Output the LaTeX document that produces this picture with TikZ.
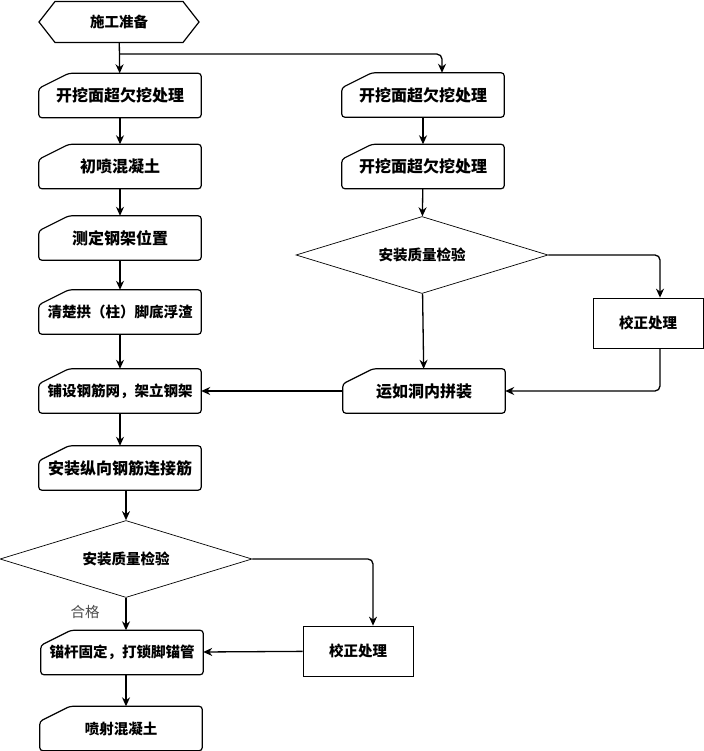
\documentclass[tikz,border=0pt]{standalone}
\usepackage{fontspec}
\setmainfont{Noto Sans CJK SC}
\usetikzlibrary{arrows.meta,positioning,shapes.geometric,shapes.symbols}

\begin{document}
\begin{tikzpicture}[x=1pt, y=-1pt,
  card/.style={minimum width=162pt, minimum height=44pt, inner sep=0pt, font=\fontsize{16}{19}\selectfont\bfseries},
  cardsm/.style={card, font=\fontsize{14.5}{18}\selectfont\bfseries},
  start/.style={draw, signal, signal to=west and east, signal pointer angle=104, minimum width=160pt, minimum height=41pt, inner sep=0pt, line width=1.2pt, font=\fontsize{14.5}{18}\selectfont\bfseries},
  check/.style={draw, diamond, aspect=3.3, minimum width=252pt, minimum height=77pt, inner sep=0pt, line width=0.7pt, font=\fontsize{14.5}{18}\selectfont\bfseries},
  fix/.style={draw, minimum width=110pt, minimum height=50pt, inner sep=0pt, line width=0.7pt, font=\fontsize{14.5}{18}\selectfont\bfseries},
  arr/.style={-{Stealth[length=9pt, width=8pt]}, line width=1.3pt, rounded corners=5pt}
]
  \useasboundingbox (0,0) rectangle (703,751);

  % left column
  \node[start] (prep) at (119,22) {施工准备};
  \node[card] (l1) at (120,95.5) {开挖面超欠挖处理};
  \node[card] (l2) at (120,166.5) {初喷混凝土};
  \node[card] (l3) at (120,238) {测定钢架位置};
  \node[cardsm] (l4) at (120,312) {清楚拱（柱）脚底浮渣};
  \node[cardsm] (l5) at (120,391) {铺设钢筋网，架立钢架};
  \node[card] (l6) at (120,468) {安装纵向钢筋连接筋};
  \node[check] (chkl) at (126,559) {安装质量检验};
  \node[fix] (fixl) at (358,651) {校正处理};
  \node[cardsm] (l7) at (122,652.5) {锚杆固定，打锁脚锚管};
  \node[cardsm] (l8) at (121,728.5) {喷射混凝土};
  \node[font=\fontsize{14.5}{18}\selectfont, text=black!70] (ok) at (85,612) {合格};

  % right column
  \node[card] (r1) at (423,95) {开挖面超欠挖处理};
  \node[card] (r2) at (423,166.5) {开挖面超欠挖处理};
  \node[check] (chkr) at (422,255) {安装质量检验};
  \node[fix] (fixr) at (648,323) {校正处理};
  \node[card] (r3) at (424,391) {运如洞内拼装};

  % card outlines
  \foreach \n in {l1,l2,l3,l4,l5,l6,l7,l8,r1,r2,r3}
    \draw[line width=1.2pt, rounded corners=3pt] (\n.south west) -- ([yshift=-15pt]\n.north west)
      -- ([xshift=30pt]\n.north west) -- (\n.north east) -- (\n.south east) -- cycle;

  \coordinate (split) at ([yshift=-11pt]prep.south);

  \draw[arr] (prep) -- (l1);
  \draw[arr] (split) -| ([xshift=19pt]r1.north);
  \draw[arr] (l1) -- (l2);
  \draw[arr] (l2) -- (l3);
  \draw[arr] (l3) -- (l4);
  \draw[arr] (l4) -- (l5);
  \draw[arr] (l5) -- (l6);
  \draw[arr] (l6.south -| chkl.north) -- (chkl.north);
  \draw[arr] (chkl.south) -- (chkl.south |- l7.north);
  \draw[arr] (chkl.east) -| ([xshift=15pt]fixl.north);
  \draw[arr] (fixl) -- (l7);
  \draw[arr] (l7.south -| chkl.south) -- (chkl.south |- l8.north);

  \draw[arr] (r1) -- (r2);
  \draw[arr] (r2) -- (chkr);
  \draw[arr] (chkr) -- (r3);
  \draw[arr] (chkr.east) -| ([xshift=12pt]fixr.north);
  \draw[arr] ([xshift=12pt]fixr.south) |- (r3.east);
  \draw[arr] (r3) -- (l5);
\end{tikzpicture}
\end{document}
